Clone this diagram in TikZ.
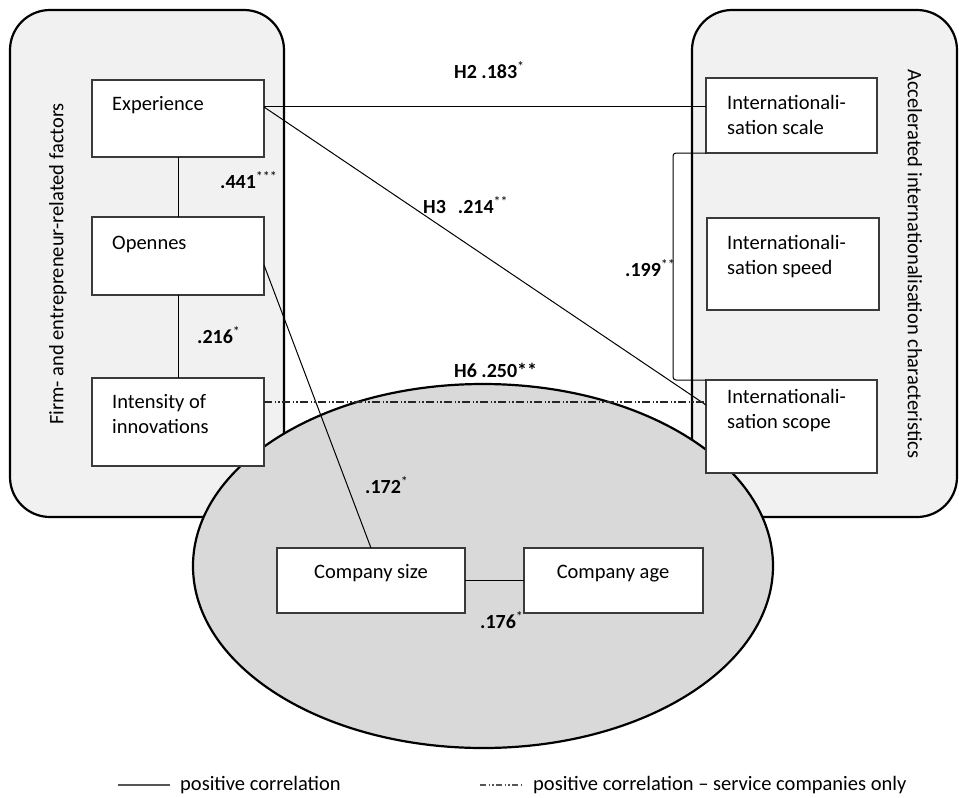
\documentclass[tikz,border=0pt]{standalone}
\usepackage{fontspec}
\setmainfont{Carlito}
\usetikzlibrary{calc}
\definecolor{panelgray}{HTML}{F1F1F1}
\definecolor{ellgray}{HTML}{D9D9D9}
\definecolor{boxline}{HTML}{3A3A3A}
\definecolor{leggray}{HTML}{555555}
\begin{document}
\begin{tikzpicture}[x=1pt,y=-1pt,
  panel/.style={draw=black, line width=2.2pt, fill=panelgray, rounded corners=40pt,
    inner sep=0pt, outer sep=0pt, anchor=north west},
  box/.style={draw=boxline, line width=1.3pt, fill=white, inner sep=0pt, outer sep=0pt,
    anchor=north west},
  txt/.style={font=\fontsize{20.5}{25}\selectfont, inner sep=0pt, anchor=base west, align=left},
  ctxt/.style={font=\fontsize{20.5}{25}\selectfont, inner sep=0pt, anchor=base},
  num/.style={font=\fontsize{20}{24}\selectfont\bfseries, inner sep=0pt, anchor=west},
  conn/.style={line width=1pt, draw=black},
  ddash/.style={line width=1.1pt, draw=black!85, dash pattern=on 8pt off 2.5pt on 1.5pt off 2pt on 1.5pt off 2.5pt}]

\useasboundingbox (0,0) rectangle (959,798);
\fill[white] (0,0) rectangle (959,798);

% panels
\node[panel, minimum width=274pt, minimum height=507pt] (lpanel) at (10,10) {};
\node[panel, minimum width=265pt, minimum height=507pt] (rpanel) at (692,10) {};
\node[font=\fontsize{20.5}{25}\selectfont, rotate=90, inner sep=0pt] (ltitle) at (58,264) {Firm- and entrepreneur-related factors};
\node[font=\fontsize{20.5}{25}\selectfont, rotate=-90, inner sep=0pt] (rtitle) at (915,264) {Accelerated internationalisation characteristics};

% ellipse
\draw[line width=2.2pt, fill=ellgray] (483,566) ellipse [x radius=290pt, y radius=182pt];

% boxes
\node[box, minimum width=172pt, minimum height=77pt] (exp) at (92,80) {};
\node[box, minimum width=172pt, minimum height=78pt] (open) at (92,217) {};
\node[box, minimum width=172pt, minimum height=88pt] (intens) at (92,378) {};
\node[box, minimum width=171pt, minimum height=75pt] (scale) at (706,78) {};
\node[box, minimum width=172pt, minimum height=92pt] (speed) at (707,218) {};
\node[box, minimum width=171pt, minimum height=93pt] (scope) at (706,380) {};
\node[box, minimum width=188pt, minimum height=65pt] (size) at (277,548) {};
\node[box, minimum width=179pt, minimum height=65pt] (age) at (524,548) {};

% box texts (multi-line nodes: base = last line)
\node[txt] (expT) at (112,110) {Experience};
\node[txt] (openT) at (112,249) {Opennes};
\node[txt] (intT) at (112,433.5) {Intensity of\\innovations};
\node[txt] (scaleT) at (727,134.5) {Internationali-\\sation scale};
\node[txt] (speedT) at (727,274.5) {Internationali-\\sation speed};
\node[txt] (scopeT) at (727,428.5) {Internationali-\\sation scope};
\node[ctxt] (sizeT) at (371,578.5) {Company size};
\node[ctxt] (ageT) at (613,578.5) {Company age};

% connectors
\draw[conn] (exp.south) -- (open.north);
\draw[conn] (open.south) -- (intens.north);
\coordinate (h2a) at ([yshift=-26pt]exp.north east);
\draw[conn] (h2a) -- (h2a -| scale.west);
\draw[conn] ([yshift=-27pt]exp.north east) -- ([yshift=-25pt]scope.north west);
\draw[conn] ([yshift=-48pt]open.north east) -- (size.north);
\coordinate (h6a) at ([yshift=-24pt]intens.north east);
\draw[ddash] (h6a) -- (h6a -| scope.west);
\draw[conn] (size.east) -- (age.west);
\draw[conn, rounded corners=3pt] (scale.south west) -- ([xshift=-33pt]scale.south west)
  -- ([xshift=-33pt]scope.north west) -- (scope.north west);

% coefficient labels
\node[num] (l441) at (220,180) {.441\textsuperscript{\mdseries ***}};
\node[num] (l216) at (197,335) {.216\textsuperscript{\mdseries *}};
\node[num] (lh2) at (454,70) {H2 .183\textsuperscript{\mdseries *}};
\node[num] (lh3) at (423,205) {H3\hspace{0.6em}.214\textsuperscript{\mdseries **}};
\node[num] (lh6) at (454,370) {H6 .250**};
\node[num] (l199) at (625,268) {.199\textsuperscript{\mdseries **}};
\node[num] (l172) at (365,485) {.172\textsuperscript{\mdseries *}};
\node[num] (l176) at (480,620) {.176\textsuperscript{\mdseries *}};

% legend
\coordinate (lega) at (118,785);
\coordinate (legb) at (170,785);
\draw[line width=1.3pt, leggray] (lega) -- (legb);
\node[txt, anchor=west] (legT1) at (180,785) {positive correlation};
\coordinate (legc) at (480,785);
\coordinate (legd) at (521,785);
\draw[line width=1.1pt, leggray, dash pattern=on 6pt off 2.5pt on 1.5pt off 2pt on 1.5pt off 2.5pt] (legc) -- (legd);
\node[txt, anchor=west] (legT2) at (533,785) {positive correlation -- service companies only};
\end{tikzpicture}
\end{document}
